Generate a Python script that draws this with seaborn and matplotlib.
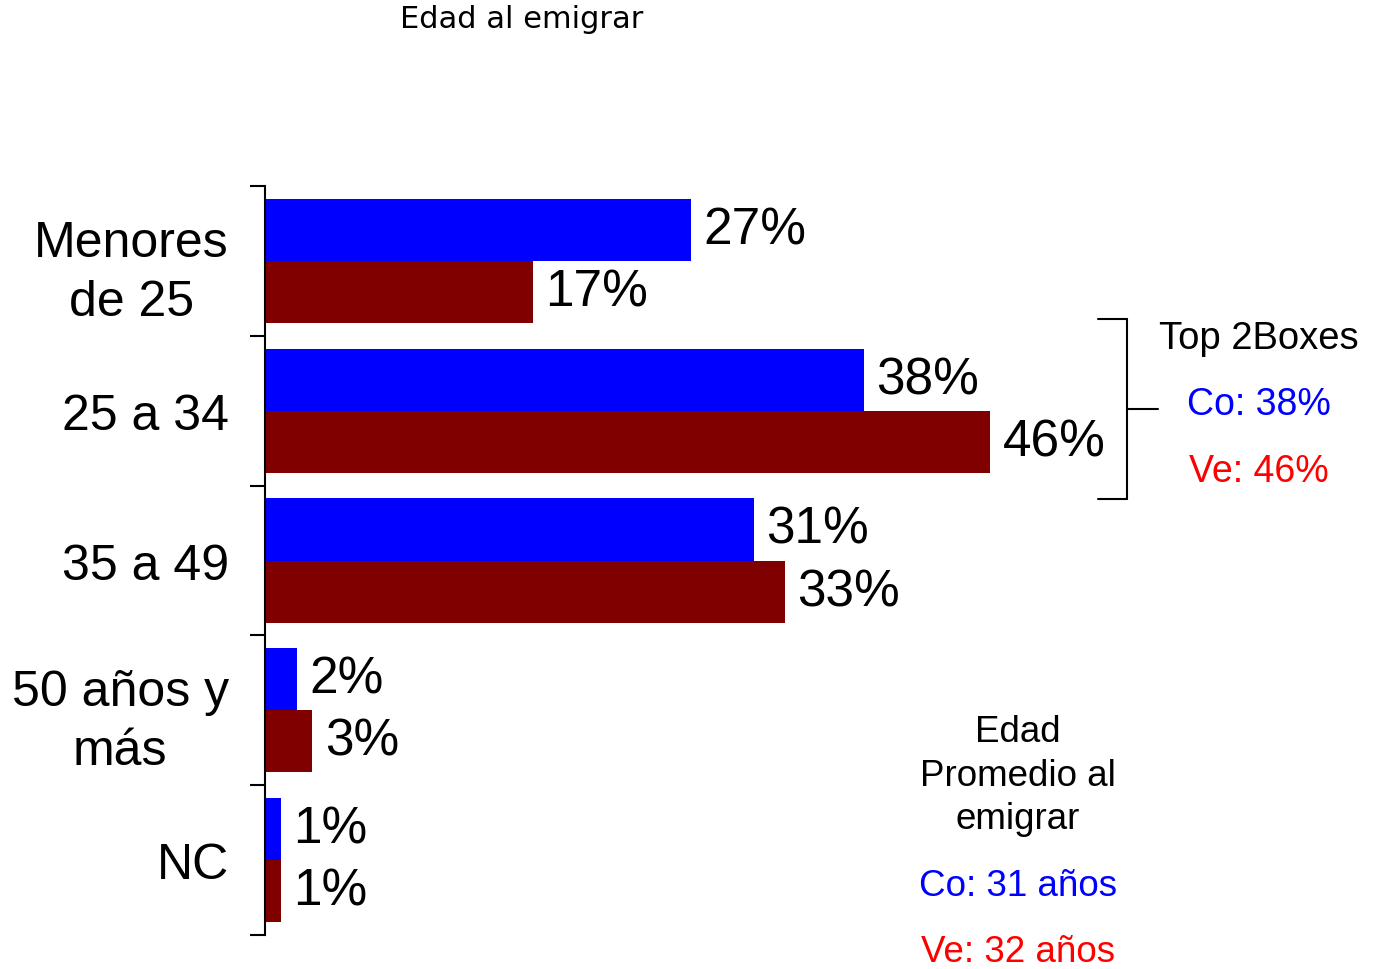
import matplotlib
matplotlib.use("Agg")
import matplotlib.pyplot as plt
import seaborn as sns
import pandas as pd
from matplotlib.lines import Line2D

categories = ["Menores\nde 25", "25 a 34", "35 a 49", "50 años y\nmás", "NC"]
co_values = [27, 38, 31, 2, 1]
ve_values = [17, 46, 33, 3, 1]
series_names = ["Co", "Ve"]
bar_colors = {"Co": "#0000FF", "Ve": "#800000"}

df = pd.DataFrame({
    "cat": categories * 2,
    "pct": co_values + ve_values,
    "pais": ["Co"] * len(categories) + ["Ve"] * len(categories),
})

sns.set_style("white")
plt.rcParams["font.family"] = ["Liberation Sans", "DejaVu Sans"]
plt.rcParams["text.color"] = "black"
plt.rcParams["ytick.color"] = "black"
plt.rcParams["ytick.labelcolor"] = "black"

fig = plt.figure(figsize=(13.77, 9.70), dpi=100)
ax = fig.add_axes([265 / 1377, 1 - 936 / 970, 788 / 1377, 749 / 970])

sns.barplot(data=df, y="cat", x="pct", hue="pais", hue_order=series_names,
            order=categories, palette=bar_colors, orient="h", width=0.83,
            saturation=1, legend=False, linewidth=0, edgecolor="none", ax=ax)

for cont in ax.containers:
    vals = [int(round(b.get_width())) for b in cont]
    ax.bar_label(cont, labels=[f"{v}%" for v in vals], padding=9,
                 fontsize=37, color="black")

ax.set_xlim(0, 50)
ax.set_ylim(len(categories) - 0.5, -0.5)
ax.set_xlabel("")
ax.set_ylabel("")
ax.set_xticks([])
for side in ["top", "right", "bottom"]:
    ax.spines[side].set_visible(False)
ax.spines["left"].set_linewidth(1.5)
ax.spines["left"].set_color("black")

ax.set_yticks(range(len(categories)))
ax.set_yticklabels(categories, fontsize=36, multialignment="center",
                   linespacing=1.35, color="black")
ax.set_yticks([i - 0.5 for i in range(len(categories) + 1)], minor=True)
ax.tick_params(axis="y", which="major", length=0, pad=26)
ax.tick_params(axis="y", which="minor", left=True, length=11, width=1.5,
               direction="out", color="black")

# title
fig.text(522 / 1377, 1 - 20 / 970, "Edad al emigrar", ha="center", va="center",
         fontsize=22, family="DejaVu Sans")

# bracket for top 2 boxes
def fx(px):
    return px / 1377

def fy(py):
    return 1 - py / 970

lw = 1.5
for xs, ys in [([1098, 1127], [320, 320]), ([1127, 1127], [320, 500]),
               ([1098, 1127], [500, 500]), ([1127, 1158], [410, 410])]:
    fig.add_artist(Line2D([fx(x) for x in xs], [fy(y) for y in ys],
                          color="black", lw=lw))

fig.text(fx(1259), fy(339), "Top 2Boxes", ha="center", va="center", fontsize=27.5)
fig.text(fx(1259), fy(405), f"Co: {co_values[1]}%", ha="center", va="center",
         fontsize=27, color="#0000FF")
fig.text(fx(1259), fy(472), f"Ve: {ve_values[1]}%", ha="center", va="center",
         fontsize=27, color="#FF0000")

fig.text(fx(1018), fy(776), "Edad\nPromedio al\nemigrar", ha="center",
         va="center", fontsize=26.5, linespacing=1.32)
fig.text(fx(1018), fy(887), "Co: 31 años", ha="center", va="center",
         fontsize=26.5, color="#0000FF")
fig.text(fx(1018), fy(953), "Ve: 32 años", ha="center", va="center",
         fontsize=26.5, color="#FF0000")

fig.savefig("out.png", dpi=100, facecolor="white")
plt.close(fig)
